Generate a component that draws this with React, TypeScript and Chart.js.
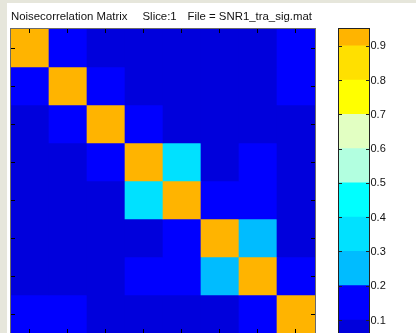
import React, { useEffect, useRef } from "react";
import { Chart, registerables } from "chart.js";

Chart.register(...registerables);

// ---- data ----
const columnLabels = ["1", "2", "3", "4", "5", "6", "7", "8"];
const row1 = [0.95, 0.14, 0.05, 0.06, 0.05, 0.04, 0.07, 0.13];
const row2 = [0.14, 0.95, 0.15, 0.06, 0.05, 0.07, 0.06, 0.12];
const row3 = [0.05, 0.15, 0.95, 0.13, 0.06, 0.05, 0.08, 0.07];
const row4 = [0.06, 0.06, 0.13, 0.95, 0.36, 0.07, 0.12, 0.05];
const row5 = [0.05, 0.05, 0.06, 0.36, 0.95, 0.14, 0.13, 0.06];
const row6 = [0.04, 0.07, 0.05, 0.07, 0.14, 0.95, 0.27, 0.08];
const row7 = [0.07, 0.06, 0.08, 0.12, 0.13, 0.27, 0.95, 0.15];
const row8 = [0.13, 0.12, 0.07, 0.05, 0.06, 0.08, 0.15, 0.95];
const matrixRows = [row1, row2, row3, row4, row5, row6, row7, row8];

const colorbarTicks = [0.1, 0.2, 0.3, 0.4, 0.5, 0.6, 0.7, 0.8, 0.9];
const colorbarMin = 0.062;
const colorbarMax = 0.949;
const binLows = [0.0, 0.1, 0.2, 0.3, 0.4, 0.5, 0.6, 0.7, 0.8, 0.9];
const binHighs = [0.1, 0.2, 0.3, 0.4, 0.5, 0.6, 0.7, 0.8, 0.9, 1.0];
const binColors = [
  "#0000DC",
  "#0000FF",
  "#00BCFF",
  "#00E1FF",
  "#00FFFF",
  "#B2FFE0",
  "#E2FFC2",
  "#FFFF00",
  "#FFE000",
  "#FFB400",
];

const titleParts = ["Noisecorrelation Matrix", "Slice:1", "File = SNR1_tra_sig.mat"];

function colorFor(v: number): string {
  let k = Math.floor(v * 10);
  if (k < 0) k = 0;
  if (k > 9) k = 9;
  return binColors[k];
}

const FONT = '11px "Liberation Sans", Arial, sans-serif';
const TITLE_FONT = '11.4px "Liberation Sans", Arial, sans-serif';

export default function App() {
  const matRef = useRef<HTMLCanvasElement | null>(null);
  const barRef = useRef<HTMLCanvasElement | null>(null);

  useEffect(() => {
    const matrixDecor = {
      id: "matrixDecor",
      afterDraw(chart: any) {
        const ctx = chart.ctx;
        const a = chart.chartArea;
        const xs = chart.scales.x;
        const ys = chart.scales.y;
        ctx.save();
        // title
        ctx.fillStyle = "#111";
        ctx.font = TITLE_FONT;
        ctx.textBaseline = "alphabetic";
        const titleX = [11, 142.5, 187.5];
        titleParts.forEach((t, i) => ctx.fillText(t, titleX[i], 19.5));
        // border
        ctx.strokeStyle = "#6a6a6a";
        ctx.lineWidth = 1;
        ctx.strokeRect(a.left - 0.5, a.top - 0.5, a.right - a.left + 1, a.bottom - a.top + 1);
        // ticks
        ctx.strokeStyle = "#000";
        ctx.beginPath();
        columnLabels.forEach((_, i) => {
          const x = Math.round(xs.getPixelForValue(i)) - 0.5;
          ctx.moveTo(x, a.top);
          ctx.lineTo(x, a.top + 4);
          ctx.moveTo(x, a.bottom);
          ctx.lineTo(x, a.bottom - 4);
        });
        matrixRows.forEach((_, i) => {
          const y = Math.round(ys.getPixelForValue(i + 0.5)) + 0.5;
          ctx.moveTo(a.left, y);
          ctx.lineTo(a.left + 4, y);
          ctx.moveTo(a.right, y);
          ctx.lineTo(a.right - 4, y);
        });
        ctx.stroke();
        ctx.restore();
      },
    };

    const mat = new Chart(matRef.current as HTMLCanvasElement, {
      type: "bar",
      data: {
        labels: columnLabels,
        datasets: matrixRows.map((row, i) => ({
          label: "row " + (i + 1),
          data: row.map(() => [i, i + 1]) as any,
          backgroundColor: row.map(colorFor),
          borderWidth: 0,
          barPercentage: 1,
          categoryPercentage: 1,
          grouped: false,
        })),
      },
      options: {
        responsive: false,
        animation: false,
        devicePixelRatio: 1,
        layout: { padding: { left: 11, top: 29, right: 101, bottom: 0 } },
        plugins: { legend: { display: false }, tooltip: { enabled: false }, title: { display: false } },
        scales: {
          x: { type: "category", display: false, offset: true },
          y: { type: "linear", display: false, min: 0, max: 8, reverse: true },
        },
      },
      plugins: [matrixDecor],
    } as any);

    const barDecor = {
      id: "barDecor",
      afterDraw(chart: any) {
        const ctx = chart.ctx;
        const a = chart.chartArea;
        const ys = chart.scales.y;
        ctx.save();
        ctx.strokeStyle = "#222";
        ctx.lineWidth = 1;
        ctx.strokeRect(a.left - 0.5, a.top - 0.5, a.right - a.left + 1, a.bottom - a.top + 1);
        ctx.beginPath();
        colorbarTicks.forEach((t) => {
          const y = Math.round(ys.getPixelForValue(t)) + 0.5;
          ctx.moveTo(a.left, y);
          ctx.lineTo(a.left + 3, y);
          ctx.moveTo(a.right, y);
          ctx.lineTo(a.right - 3, y);
        });
        ctx.stroke();
        ctx.fillStyle = "#111";
        ctx.font = FONT;
        ctx.textBaseline = "middle";
        colorbarTicks.forEach((t) => {
          const y = ys.getPixelForValue(t) + 0.5;
          ctx.fillText(t.toFixed(1), a.right + 1.5, y);
        });
        ctx.restore();
      },
    };

    const bar = new Chart(barRef.current as HTMLCanvasElement, {
      type: "bar",
      data: {
        labels: ["c"],
        datasets: binLows.map((lo, k) => ({
          label: "bin " + k,
          data: [[lo, binHighs[k]]] as any,
          backgroundColor: binColors[k],
          borderWidth: 0,
          barPercentage: 1,
          categoryPercentage: 1,
          grouped: false,
        })),
      },
      options: {
        responsive: false,
        animation: false,
        devicePixelRatio: 1,
        layout: { padding: { left: 9, top: 29, right: 47, bottom: 0 } },
        plugins: { legend: { display: false }, tooltip: { enabled: false } },
        scales: {
          x: { type: "category", display: false, offset: true },
          y: { type: "linear", display: false, min: colorbarMin, max: colorbarMax },
        },
      },
      plugins: [barDecor],
    } as any);

    return () => {
      mat.destroy();
      bar.destroy();
    };
  }, []);

  return (
    <div style={{ position: "relative", width: 416, height: 333, overflow: "hidden", background: "#e6e6db" }}>
      <style>{"body{margin:0;background:#e6e6db;}"}</style>
      <div style={{ position: "absolute", left: 7, top: 3, width: 409, height: 330, background: "#ffffff" }} />
      <canvas ref={matRef} width={416} height={333} style={{ position: "absolute", left: 0, top: 0, width: 416, height: 333 }} />
      <canvas ref={barRef} width={86} height={333} style={{ position: "absolute", left: 330, top: 0, width: 86, height: 333 }} />
    </div>
  );
}
